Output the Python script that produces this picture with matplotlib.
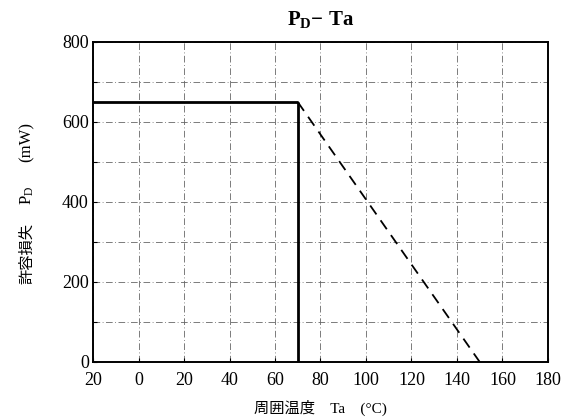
import matplotlib
matplotlib.use("Agg")
import matplotlib.pyplot as plt

# Data
rated_temp = [-20, 70]
rated_power = [650, 650]
cutoff_temp = [70, 70]
cutoff_power = [650, 0]
derate_temp = [70, 150]
derate_power = [650, 0]

x_ticks = [-20, 0, 20, 40, 60, 80, 100, 120, 140, 160, 180]
x_tick_labels = ["20", "0", "20", "40", "60", "80", "100", "120", "140", "160", "180"]
y_ticks = [0, 200, 400, 600, 800]
y_minor = [100, 300, 500, 700]

plt.rcParams["mathtext.fontset"] = "custom"
plt.rcParams["mathtext.rm"] = "Liberation Serif"
plt.rcParams["mathtext.it"] = "Liberation Serif"
plt.rcParams["mathtext.bf"] = "Liberation Serif:bold"

serif = ["Liberation Serif", "DejaVu Serif"]
mixed = ["Liberation Serif", "Noto Sans CJK JP", "DejaVu Sans"]
cjk = ["Noto Sans CJK JP", "DejaVu Sans"]

fig = plt.figure(figsize=(5.61, 4.17), dpi=100)
ax = fig.add_axes([0.1658, 0.1319, 0.811, 0.7674])

ax.plot(rated_temp, rated_power, color="black", lw=2.0, solid_capstyle="butt")
ax.plot(cutoff_temp, cutoff_power, color="black", lw=2.0, solid_capstyle="butt")
ax.plot(derate_temp, derate_power, color="black", lw=1.3, linestyle=(0, (6, 4)))

ax.set_xlim(-20, 180)
ax.set_ylim(0, 800)
ax.set_xticks(x_ticks)
ax.set_xticklabels(x_tick_labels, fontfamily=serif, fontsize=13)
ax.set_yticks(y_ticks)
ax.set_yticks(y_minor, minor=True)
ax.set_yticklabels([str(v) for v in y_ticks], fontfamily=serif, fontsize=13)
ax.tick_params(axis="both", which="both", direction="in", length=3, width=0.8)
ax.tick_params(axis="x", pad=7)
ax.tick_params(axis="y", pad=3)

ax.grid(True, which="both", color="#666666", linestyle=(0, (8, 3, 1, 3)), linewidth=0.6)
ax.set_axisbelow(True)
for s in ax.spines.values():
    s.set_linewidth(1.4)

ax.set_title(r"$\mathbf{P_D}$" + "\u2212 Ta", fontfamily=serif, fontweight="bold", fontsize=15, pad=12)
ax.set_xlabel("周囲温度　Ta　(°C)", fontfamily=mixed, fontsize=11, labelpad=8)

# y-axis label in pieces (CJK text, subscripted symbol, unit)
ylab_x = -0.145
ax.text(ylab_x, 0.34, "許容損失", rotation=90, ha="center", va="center",
        fontfamily=cjk, fontsize=11, transform=ax.transAxes)
ax.text(ylab_x, 0.522, r"$\mathrm{P_D}$", rotation=90, ha="center", va="center",
        fontsize=12, transform=ax.transAxes)
ax.text(ylab_x, 0.6875, "(mW)", rotation=90, ha="center", va="center",
        fontfamily=serif, fontsize=12, transform=ax.transAxes)

fig.savefig("out.png", dpi=100)
